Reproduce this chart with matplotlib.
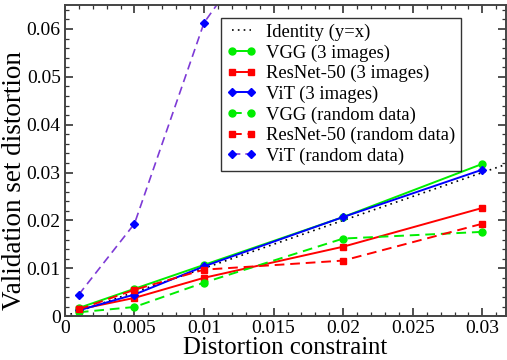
import matplotlib
matplotlib.use("Agg")
import matplotlib.pyplot as plt
from matplotlib.ticker import MultipleLocator, FuncFormatter

plt.rcParams['font.family'] = ['Liberation Serif', 'DejaVu Serif']

# distortion constraint values
x = [0.001, 0.005, 0.01, 0.02, 0.03]
identity_x = [0.0, 0.035]

vgg_3img = [0.0017, 0.0057, 0.0107, 0.0207, 0.0318]
resnet_3img = [0.0014, 0.0038, 0.0080, 0.0145, 0.0226]
vit_3img = [0.0012, 0.0045, 0.0104, 0.0207, 0.0306]
vgg_rand = [0.0008, 0.0019, 0.0070, 0.0162, 0.0176]
resnet_rand = [0.0014, 0.0055, 0.0097, 0.0116, 0.0193]
vit_rand = [0.0045, 0.0193, 0.0613, 0.102, 0.15]

fig = plt.figure(figsize=(5.07, 3.6), dpi=100)
ax = fig.add_axes([0.128, 0.122, 0.87, 0.864])

ax.plot(identity_x, identity_x, color='black', ls=(0, (1, 2.5)), lw=1.2, label='Identity (y=x)')
ax.plot(x, vgg_3img, color='#00ee00', marker='o', ms=5, lw=1.4, label='VGG (3 images)')
ax.plot(x, resnet_3img, color='#ff0000', marker='s', ms=5, lw=1.4, label='ResNet-50 (3 images)')
ax.plot(x, vit_3img, color='#0000ff', marker='D', ms=4, lw=1.4, label='ViT (3 images)')
ax.plot(x, vgg_rand, color='#00ee00', marker='o', ms=5, lw=1.4, ls=(0, (5, 3)), label='VGG (random data)')
ax.plot(x, resnet_rand, color='#ff0000', marker='s', ms=5, lw=1.4, ls=(0, (5, 3)), label='ResNet-50 (random data)')
ax.plot(x, vit_rand, color='#7d3ad6', marker='D', ms=4, mfc='#0000ff', mec='#0000ff',
        lw=1.2, ls=(0, (5, 3)), label='ViT (random data)')

ax.set_xlim(0, 0.0317)
ax.set_ylim(0, 0.065)
ax.xaxis.set_major_locator(MultipleLocator(0.005))
ax.xaxis.set_minor_locator(MultipleLocator(0.001))
ax.yaxis.set_major_locator(MultipleLocator(0.01))
ax.yaxis.set_minor_locator(MultipleLocator(0.002))
fmt = FuncFormatter(lambda v, p: '%g' % round(v, 4))
ax.xaxis.set_major_formatter(fmt)
ax.yaxis.set_major_formatter(fmt)
ax.tick_params(which='both', direction='in', top=True, right=True, labelsize=14, colors='#333333',
               labelcolor='black')
ax.tick_params(which='major', length=6, width=1.2, pad=3)
ax.tick_params(which='minor', length=3, width=0.9)
for s in ax.spines.values():
    s.set_color('#444444')
    s.set_linewidth(1.4)

ax.set_xlabel('Distortion constraint', fontsize=17.8, labelpad=0)
ax.set_ylabel('Validation set distortion', fontsize=19.5, labelpad=2)
ax.yaxis.set_label_coords(-0.086, 0.437)

leg = ax.legend(loc='upper left', bbox_to_anchor=(0.354, 0.958), fontsize=13.4, frameon=True,
                fancybox=False, edgecolor='black', handlelength=1.6, handletextpad=0.5,
                labelspacing=0.18, borderpad=0.3, borderaxespad=0, numpoints=2)
leg.get_frame().set_linewidth(1.0)

fig.savefig('out.png', dpi=100)
